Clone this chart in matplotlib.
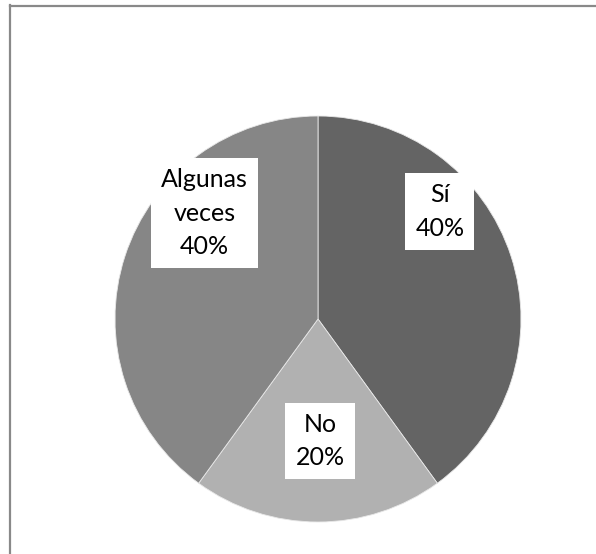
import matplotlib.pyplot as plt
from matplotlib.lines import Line2D

# Datos
categorias = ["Sí", "No", "Algunas\nveces"]
porcentajes = [40, 20, 40]
colores = ["#646464", "#b1b1b1", "#868686"]

# posiciones de las etiquetas (coordenadas del eje, radio = 1)
pos_etiquetas = [(0.60, 0.53), (0.01, -0.60), (-0.56, 0.52)]

W, H = 596, 554
fig = plt.figure(figsize=(W / 100, H / 100), dpi=100)

# marco gris (solo se ven los bordes superior e izquierdo)
fig.add_artist(Line2D([9.5 / W, 9.5 / W], [0, 1 - 5 / H], color="#898989", lw=1.6,
                      transform=fig.transFigure))
fig.add_artist(Line2D([9.5 / W, 1], [1 - 5.5 / H, 1 - 5.5 / H], color="#898989", lw=1.6,
                      transform=fig.transFigure))

cx, cy, r = 318, 319, 203
ax = fig.add_axes([(cx - r) / W, (H - cy - r) / H, 2 * r / W, 2 * r / H])
ax.pie(porcentajes, colors=colores, startangle=90, counterclock=False, radius=1,
       wedgeprops=dict(edgecolor="#e8e8e8", linewidth=0.6))
ax.set_xlim(-1, 1)
ax.set_ylim(-1, 1)
ax.set_aspect("equal")
ax.axis("off")

for cat, val, (x, y) in zip(categorias, porcentajes, pos_etiquetas):
    ax.text(x, y, f"{cat}\n{val}%", ha="center", va="center", fontsize=18,
            family="Lato", linespacing=1.55, color="black",
            bbox=dict(boxstyle="square,pad=0.4", facecolor="white", edgecolor="none"))

fig.savefig("out.png", dpi=100)
